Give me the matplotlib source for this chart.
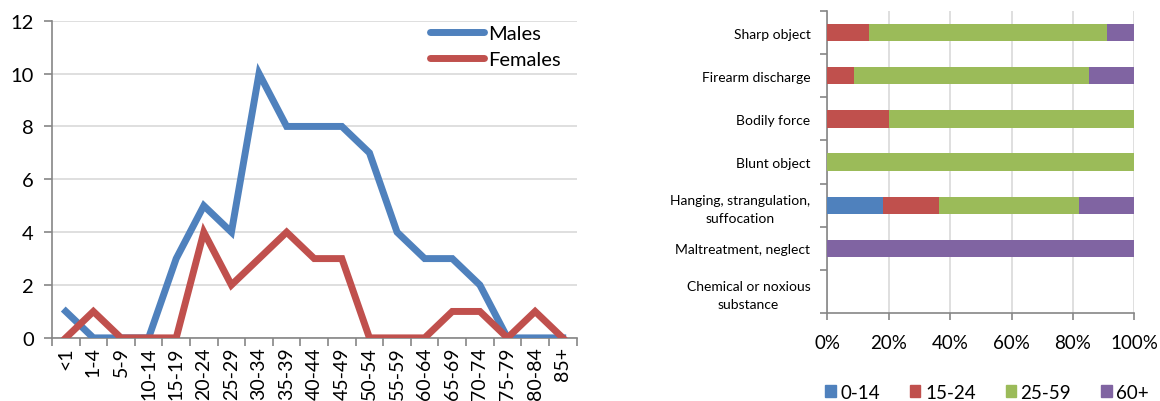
import numpy as np
import matplotlib
matplotlib.use("Agg")
import matplotlib.pyplot as plt
from matplotlib.lines import Line2D
from matplotlib.patches import Patch

# age groups and counts (left chart)
age_groups = ['<1', '1-4', '5-9', '10-14', '15-19', '20-24', '25-29', '30-34',
              '35-39', '40-44', '45-49', '50-54', '55-59', '60-64', '65-69',
              '70-74', '75-79', '80-84', '85+']
males = [1, 0, 0, 0, 3, 5, 4, 10, 8, 8, 8, 7, 4, 3, 3, 2, 0, 0, 0]
females = [0, 1, 0, 0, 0, 4, 2, 3, 4, 3, 3, 0, 0, 0, 1, 1, 0, 1, 0]

# methods and age-band shares in percent (right chart)
methods = ['Sharp object', 'Firearm discharge', 'Bodily force', 'Blunt object',
           'Hanging, strangulation,\nsuffocation', 'Maltreatment, neglect',
           'Chemical or noxious\nsubstance']
age_bands = ['0-14', '15-24', '25-59', '60+']
share_0_14 = [0, 0, 0, 0, 18.2, 0, 0]
share_15_24 = [13.6, 8.8, 20.0, 0, 18.2, 0, 0]
share_25_59 = [77.3, 76.5, 80.0, 100.0, 45.4, 0, 0]
share_60p = [9.1, 14.7, 0, 0, 18.2, 100.0, 0]

blue = '#4F81BD'
red = '#C0504D'
green = '#9BBB59'
purple = '#8064A2'
grid_c = '#D9D9D9'
axis_c = '#868686'

plt.rcParams['font.family'] = ['Lato', 'DejaVu Sans']

fig = plt.figure(figsize=(11.6, 4.02), dpi=100)

# ---- left: line chart
ax1 = fig.add_axes([0.0448, 0.157, 0.4522, 0.789])
x = np.arange(len(age_groups))
ax1.plot(x, males, color=blue, lw=5, solid_joinstyle='miter', zorder=3)
ax1.plot(x, females, color=red, lw=5, solid_joinstyle='miter', zorder=4)
ax1.set_xlim(-0.5, len(age_groups) - 0.5)
ax1.set_ylim(0, 12)
ax1.set_yticks(range(0, 13, 2))
ax1.set_xticks(x)
ax1.set_xticklabels(age_groups, rotation=90, fontsize=14)
ax1.set_xticks(np.arange(-0.5, len(age_groups)), minor=True)
ax1.tick_params(axis='x', which='major', length=0, pad=6)
ax1.tick_params(axis='x', which='minor', length=6, color=axis_c, width=1.2)
ax1.tick_params(axis='y', length=6, color=axis_c, width=1.2, labelsize=14.5, pad=7)
ax1.grid(axis='y', color=grid_c, lw=1.2)
ax1.set_axisbelow(True)
for s in ['top', 'right']:
    ax1.spines[s].set_visible(False)
for s in ['left', 'bottom']:
    ax1.spines[s].set_color(axis_c)
    ax1.spines[s].set_linewidth(1.2)
handles = [Line2D([], [], color=blue, lw=5, solid_capstyle='round'),
           Line2D([], [], color=red, lw=5, solid_capstyle='round')]
ax1.legend(handles, ['Males', 'Females'], loc='upper right',
           bbox_to_anchor=(1.005, 1.045), frameon=False, fontsize=14.5,
           handlelength=2.7, handletextpad=0.2, labelspacing=0.45)

# ---- right: stacked horizontal bars
ax2 = fig.add_axes([0.713, 0.219, 0.265, 0.751])
y = np.arange(len(methods))
left = np.zeros(len(methods))
for vals, col in zip([share_0_14, share_15_24, share_25_59, share_60p],
                     [blue, red, green, purple]):
    ax2.barh(y, vals, left=left, height=0.4, color=col, zorder=3)
    left = left + np.array(vals)
ax2.set_ylim(len(methods) - 0.5, -0.5)
ax2.set_xlim(0, 100)
ax2.set_yticks(y)
ax2.set_yticklabels(methods, fontsize=10, multialignment='center',
                    linespacing=1.55)
ax2.set_yticks(np.arange(-0.5, len(methods)), minor=True)
ax2.tick_params(axis='y', which='major', length=0, pad=12)
ax2.tick_params(axis='y', which='minor', length=5, color=axis_c, width=1.2)
ax2.set_xticks(range(0, 101, 20))
ax2.set_xticklabels([f'{v}%' for v in range(0, 101, 20)], fontsize=13.5)
ax2.tick_params(axis='x', length=5, color=axis_c, width=1.2, pad=10)
ax2.grid(axis='x', color=grid_c, lw=1.2)
ax2.set_axisbelow(True)
for s in ['top', 'right']:
    ax2.spines[s].set_visible(False)
for s in ['left', 'bottom']:
    ax2.spines[s].set_color(axis_c)
    ax2.spines[s].set_linewidth(1.2)
patches = [Patch(color=c) for c in [blue, red, green, purple]]
fig.legend(patches, age_bands, loc='center', bbox_to_anchor=(0.851, 0.022),
           ncol=4, frameon=False, fontsize=13.5, handlelength=0.55,
           handleheight=0.55, handletextpad=0.25, columnspacing=1.6)

fig.savefig('out.png', dpi=100)
